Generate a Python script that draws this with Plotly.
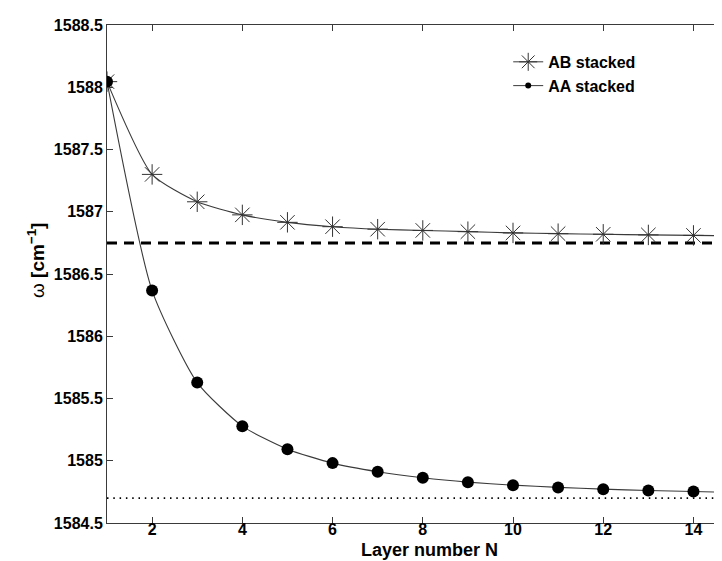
import plotly.graph_objects as go

# Data
layers = [1, 2, 3, 4, 5, 6, 7, 8, 9, 10, 11, 12, 13, 14]
ab_stacked = [1588.045, 1587.30, 1587.08, 1586.975, 1586.915, 1586.88, 1586.86,
              1586.85, 1586.84, 1586.83, 1586.824, 1586.819, 1586.814, 1586.81]
aa_stacked = [1588.045, 1586.367, 1585.628, 1585.278, 1585.093, 1584.981, 1584.912,
              1584.863, 1584.828, 1584.804, 1584.786, 1584.772, 1584.761, 1584.753]
# curve continuation beyond N=14 (read at right edge)
curve_x_ext = [15]
ab_ext = [1586.806]
aa_ext = [1584.744]
ab_limit = 1586.75
aa_limit = 1584.70
x_range = [1, 14.81]
y_ticks = [1584.5, 1585, 1585.5, 1586, 1586.5, 1587, 1587.5, 1588, 1588.5]
y_tick_labels = ["1584.5", "1585", "1585.5", "1586", "1586.5", "1587", "1587.5", "1588", "1588.5"]
x_ticks = [2, 4, 6, 8, 10, 12, 14]

FONT = "Liberation Sans"
LINE_COL = "#3a3a3a"
STAR_COL = "#333333"

fig = go.Figure()

# asymptote lines
fig.add_trace(go.Scatter(x=[x_range[0], curve_x_ext[0]], y=[ab_limit, ab_limit], mode="lines",
                         line=dict(color="black", width=3, dash="10px,7px"),
                         showlegend=False, hoverinfo="skip"))
fig.add_trace(go.Scatter(x=[x_range[0], curve_x_ext[0]], y=[aa_limit, aa_limit], mode="lines",
                         line=dict(color="black", width=1.6, dash="1.5px,4.8px"),
                         showlegend=False, hoverinfo="skip"))

# curves
fig.add_trace(go.Scatter(x=layers + curve_x_ext, y=ab_stacked + ab_ext, mode="lines",
                         line=dict(color=LINE_COL, width=1.1, shape="spline", smoothing=0.6),
                         showlegend=False, hoverinfo="skip"))
fig.add_trace(go.Scatter(x=layers + curve_x_ext, y=aa_stacked + aa_ext, mode="lines",
                         line=dict(color=LINE_COL, width=1.1, shape="spline", smoothing=0.6),
                         showlegend=False, hoverinfo="skip"))

# markers
fig.add_trace(go.Scatter(x=layers, y=ab_stacked, mode="markers",
                         marker=dict(symbol="asterisk-open", size=17, color=STAR_COL,
                                     line=dict(color=STAR_COL, width=1)),
                         showlegend=False))
fig.add_trace(go.Scatter(x=layers, y=aa_stacked, mode="markers",
                         marker=dict(symbol="circle", size=12, color="black"),
                         showlegend=False))

# legend entries
fig.add_trace(go.Scatter(x=[None], y=[None], mode="lines+markers", name="AB stacked",
                         line=dict(color=LINE_COL, width=1),
                         marker=dict(symbol="asterisk-open", size=15, color=STAR_COL,
                                     line=dict(color=STAR_COL, width=1))))
fig.add_trace(go.Scatter(x=[None], y=[None], mode="lines+markers", name="AA stacked",
                         line=dict(color=LINE_COL, width=1),
                         marker=dict(symbol="circle", size=6, color="black")))

fig.update_layout(
    width=722, height=561,
    margin=dict(l=99, r=0, t=17, b=46),
    paper_bgcolor="white", plot_bgcolor="white",
    font=dict(family=FONT, size=16, color="black"),
    legend=dict(x=0.644, y=0.96, xanchor="left", yanchor="top",
                bgcolor="rgba(0,0,0,0)", font=dict(family=FONT, size=16, weight="bold"),
                tracegroupgap=0, itemwidth=30),
    annotations=[
        dict(text="<b>Layer number N</b>", xref="paper", yref="paper",
             x=0.5 + (743 - 722) / 2 / 623, y=-0.054, xanchor="center", yanchor="middle",
             showarrow=False, font=dict(family=FONT, size=18, color="black")),
        dict(text="ω <b>[cm<sup>−1</sup>]</b>", xref="paper", yref="paper",
             x=-0.114, y=0.528, xanchor="center", yanchor="middle", textangle=-90,
             showarrow=False, font=dict(family=FONT, size=19, color="black")),
    ],
)

fig.update_xaxes(range=x_range, tickvals=x_ticks, ticks="inside", ticklen=6,
                 tickcolor=LINE_COL, showline=True, linecolor=LINE_COL, linewidth=1,
                 mirror="ticks", showgrid=False, zeroline=False,
                 tickfont=dict(family=FONT, size=16, weight="bold"), ticklabelstandoff=-8)
fig.update_yaxes(range=[1584.5, 1588.5], tickvals=y_ticks, ticktext=y_tick_labels,
                 ticks="inside", ticklen=6,
                 tickcolor=LINE_COL, showline=True, linecolor=LINE_COL, linewidth=1,
                 showgrid=False, zeroline=False,
                 tickfont=dict(family=FONT, size=16, weight="bold"), ticklabelstandoff=0)

fig.write_html("out.html")
